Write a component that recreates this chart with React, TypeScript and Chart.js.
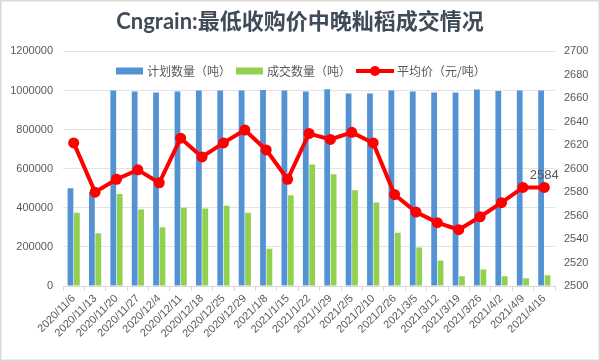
import React, { useEffect, useRef } from 'react';
import { Chart, registerables } from 'chart.js';

Chart.register(...registerables);

const titleText = 'Cngrain:最低收购价中晚籼稻成交情况';
const categories = [
  '2020/11/6', '2020/11/13', '2020/11/20', '2020/11/27', '2020/12/4', '2020/12/11',
  '2020/12/18', '2020/12/25', '2020/12/29', '2021/1/8', '2021/1/15', '2021/1/22',
  '2021/1/29', '2021/2/5', '2021/2/10', '2021/2/26', '2021/3/5', '2021/3/12',
  '2021/3/19', '2021/3/26', '2021/4/2', '2021/4/9', '2021/4/16',
];
const plannedLabel = '计划数量（吨）';
const planned = [
  500000, 480000, 1000000, 995000, 990000, 995000, 1000000, 1000000, 1000000, 1003000,
  1000000, 995000, 1006000, 985000, 985000, 1000000, 995000, 990000, 990000, 1005000,
  998000, 1000000, 1000000,
];
const tradedLabel = '成交数量（吨）';
const traded = [
  375000, 270000, 471000, 391000, 300000, 400000, 396000, 410000, 375000, 190000,
  464000, 622000, 571000, 490000, 427000, 272000, 197000, 130000, 50000, 85000,
  50000, 40000, 55000,
];
const priceLabel = '平均价（元/吨）';
const avgPrice = [
  2622, 2580, 2591, 2599, 2588, 2626, 2610, 2622, 2633, 2616, 2591, 2630,
  2625, 2631, 2622, 2578, 2563, 2554, 2548, 2559, 2571, 2584, 2584,
];
const leftAxis = { min: 0, max: 1200000, step: 200000 };
const rightAxis = { min: 2500, max: 2700, step: 20 };
const labelledPointIndex = [22];

const BLUE = '#5393D3';
const GREEN = '#92D050';
const RED = '#FF0000';
const TEXT = '#595959';
const GRID = '#D9D9D9';

const framePlugin = {
  id: 'frame',
  beforeDraw(chart: any) {
    const { ctx, width, height } = chart;
    ctx.save();
    ctx.fillStyle = '#FFFFFF';
    ctx.fillRect(0, 0, width, height);
    ctx.strokeStyle = '#D9D9D9';
    ctx.lineWidth = 1.5;
    ctx.strokeRect(0.75, 0.75, width - 1.5, height - 1.5);
    ctx.restore();
  },
};

const legendPlugin = {
  id: 'customLegend',
  afterDraw(chart: any) {
    const { ctx } = chart;
    const ds = chart.data.datasets;
    ctx.save();
    ctx.font = '12px "Noto Sans CJK SC", sans-serif';
    ctx.textBaseline = 'middle';
    ctx.textAlign = 'left';
    const cy = 71;
    let x = 116;
    ds.forEach((d: any) => {
      if (d.type === 'line') {
        ctx.strokeStyle = d.borderColor;
        ctx.lineWidth = 4;
        ctx.beginPath();
        ctx.moveTo(x, cy);
        ctx.lineTo(x + 38, cy);
        ctx.stroke();
        ctx.fillStyle = d.borderColor;
        ctx.beginPath();
        ctx.arc(x + 19, cy, 5, 0, Math.PI * 2);
        ctx.fill();
        x += 41;
      } else {
        ctx.fillStyle = d.backgroundColor;
        ctx.fillRect(x, cy - 3.5, 27, 7);
        x += 31;
      }
      ctx.fillStyle = TEXT;
      ctx.fillText(d.label, x, cy);
      x += ctx.measureText(d.label).width + 5;
    });
    ctx.restore();
  },
};

const dataLabelPlugin = {
  id: 'pointLabel',
  afterDatasetsDraw(chart: any) {
    const { ctx } = chart;
    const idx = chart.data.datasets.findIndex((d: any) => d.type === 'line');
    const meta = chart.getDatasetMeta(idx);
    ctx.save();
    ctx.font = '13px "Liberation Sans", sans-serif';
    ctx.fillStyle = TEXT;
    ctx.textAlign = 'center';
    ctx.textBaseline = 'bottom';
    labelledPointIndex.forEach((i) => {
      const p = meta.data[i];
      const v = chart.data.datasets[idx].data[i];
      ctx.fillText(String(v), p.x, p.y - 6);
    });
    ctx.restore();
  },
};

export default function App() {
  const ref = useRef<HTMLCanvasElement | null>(null);
  useEffect(() => {
    if (!ref.current) return;
    const tickFont = { family: '"Liberation Sans", sans-serif', size: 11 };
    const chart = new Chart(ref.current, {
      type: 'bar',
      data: {
        labels: categories,
        datasets: [
          {
            type: 'bar',
            label: plannedLabel,
            data: planned,
            backgroundColor: BLUE,
            yAxisID: 'y',
            order: 2,
            categoryPercentage: 0.6,
            barPercentage: 0.9,
          } as any,
          {
            type: 'bar',
            label: tradedLabel,
            data: traded,
            backgroundColor: GREEN,
            yAxisID: 'y',
            order: 2,
            categoryPercentage: 0.6,
            barPercentage: 0.9,
          } as any,
          {
            type: 'line',
            label: priceLabel,
            data: avgPrice,
            borderColor: RED,
            backgroundColor: RED,
            borderWidth: 4,
            pointRadius: 5.5,
            pointBackgroundColor: RED,
            pointBorderColor: RED,
            pointBorderWidth: 0,
            tension: 0,
            yAxisID: 'y1',
            order: 0,
          } as any,
        ],
      },
      options: {
        responsive: false,
        animation: false,
        layout: { padding: 0 },
        plugins: {
          legend: { display: false },
          tooltip: { enabled: false },
          title: {
            display: true,
            text: titleText,
            color: '#404B5A',
            font: { family: 'Lato, "Noto Sans CJK SC", sans-serif', size: 22, weight: 'bold' },
            padding: { top: 9, bottom: 16 },
          },
        },
        scales: {
          x: {
            grid: {
              display: true,
              drawOnChartArea: false,
              drawTicks: true,
              tickLength: 5,
              color: GRID,
              offset: true,
            },
            border: { color: GRID },
            ticks: {
              color: TEXT,
              font: tickFont,
              autoSkip: false,
              maxRotation: 45,
              minRotation: 45,
              padding: 1,
            },
            afterFit: (s: any) => { s.height = 75; },
          },
          y: {
            position: 'left',
            min: leftAxis.min,
            max: leftAxis.max,
            grid: { color: '#E3E3E3', drawTicks: false },
            border: { display: false },
            ticks: {
              stepSize: leftAxis.step,
              color: TEXT,
              font: tickFont,
              padding: 10,
              callback: (v: any) => String(v),
            },
            afterFit: (s: any) => { s.width = 63; },
          },
          y1: {
            position: 'right',
            min: rightAxis.min,
            max: rightAxis.max,
            grid: { drawOnChartArea: false, drawTicks: false },
            border: { display: false },
            ticks: {
              stepSize: rightAxis.step,
              color: TEXT,
              font: tickFont,
              padding: 9,
              callback: (v: any) => String(v),
            },
            afterFit: (s: any) => { s.width = 45; },
          },
        },
      } as any,
      plugins: [framePlugin, legendPlugin, dataLabelPlugin],
    });
    return () => chart.destroy();
  }, []);
  return (
    <div style={{ position: 'fixed', left: 0, top: 0, width: 600, height: 361 }}>
      <canvas ref={ref} width={600} height={361} />
    </div>
  );
}
